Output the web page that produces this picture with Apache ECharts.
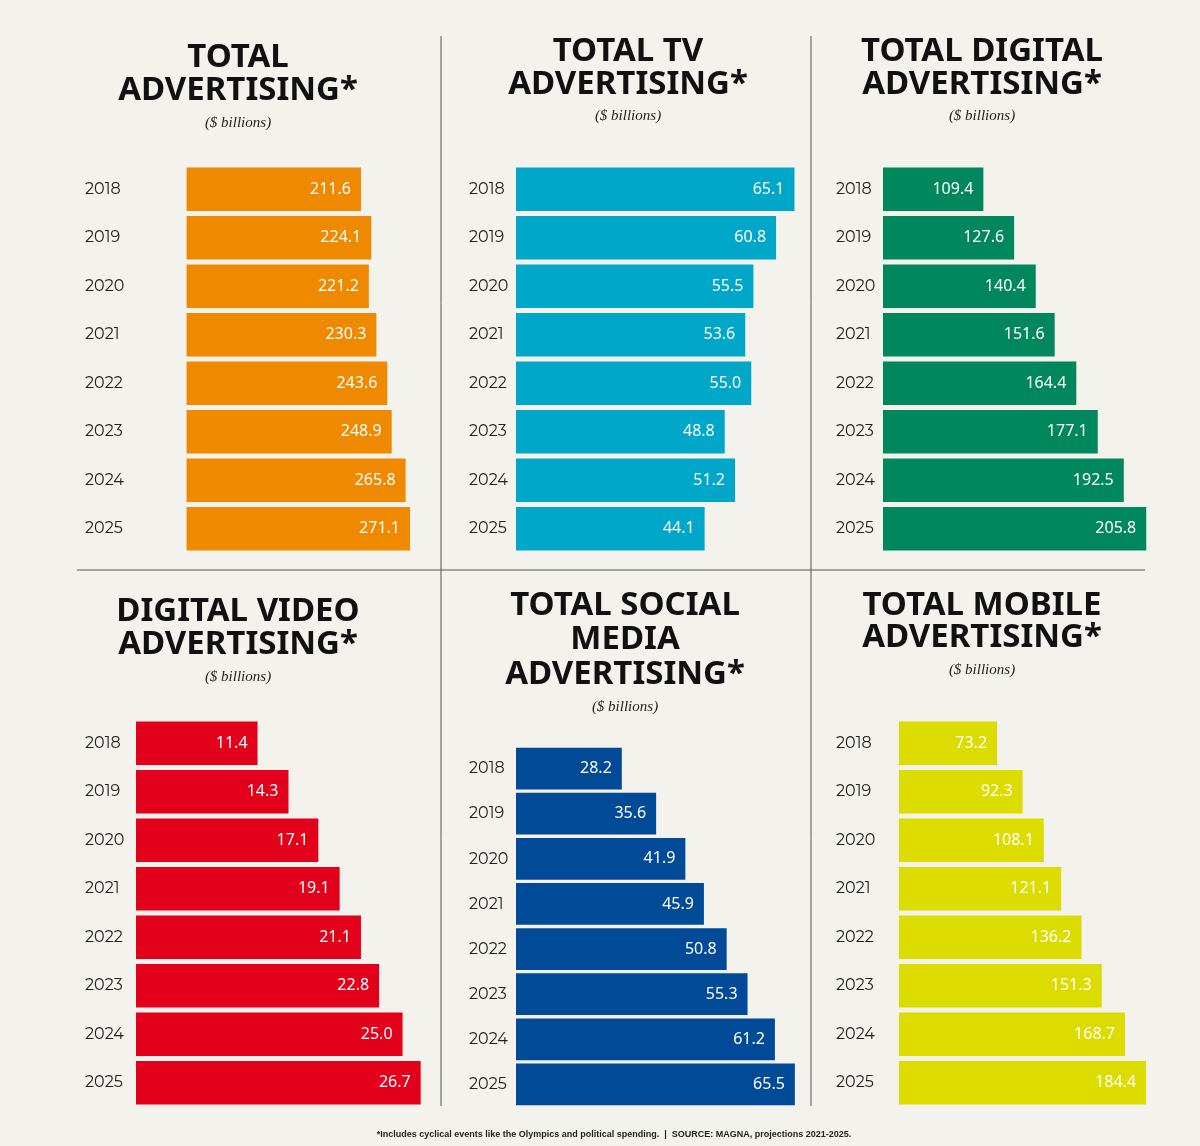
<!DOCTYPE html>
<html><head><meta charset="utf-8">
<script src="https://cdn.jsdelivr.net/npm/echarts@6/dist/echarts.min.js"></script>
<style>html,body{margin:0;padding:0;background:#f3f2ec}#c{width:1200px;height:1146px}</style>
</head><body><div id="c"></div>
<script>
const years = ['2018','2019','2020','2021','2022','2023','2024','2025'];
const totalAd = [211.6,224.1,221.2,230.3,243.6,248.9,265.8,271.1];
const totalTV = [65.1,60.8,55.5,53.6,55.0,48.8,51.2,44.1];
const totalDigital = [109.4,127.6,140.4,151.6,164.4,177.1,192.5,205.8];
const digitalVideo = [11.4,14.3,17.1,19.1,21.1,22.8,25.0,26.7];
const socialMedia = [28.2,35.6,41.9,45.9,50.8,55.3,61.2,65.5];
const mobile = [73.2,92.3,108.1,121.1,136.2,151.3,168.7,184.4];

const panels = [
 {data: totalAd, color:'#ef8a00', left:136, top:165, h:388, w:280, off:61.4, min:0, max:339.8, gap:'10%', title:['TOTAL','ADVERTISING*'], cx:238, ty:[58,91], sy:123},
 {data: totalTV, color:'#00a7c9', left:516, top:165, h:388, w:290, off:0, min:0, max:67.8, gap:'10%', title:['TOTAL TV','ADVERTISING*'], cx:628, ty:[52,85], sy:116},
 {data: totalDigital, color:'#00875c', left:883, top:165, h:388, w:270, off:0, min:50, max:209.8, gap:'10%', title:['TOTAL DIGITAL','ADVERTISING*'], cx:982, ty:[52,85], sy:116},
 {data: digitalVideo, color:'#e2001a', left:136, top:719, h:388, w:290, off:0, min:0, max:27.2, gap:'10%', title:['DIGITAL VIDEO','ADVERTISING*'], cx:238, ty:[612,645], sy:677},
 {data: socialMedia, color:'#004a98', left:516, top:746, h:361, w:290, off:0, min:5.4, max:67.9, gap:'7.5%', title:['TOTAL SOCIAL','MEDIA','ADVERTISING*'], cx:625, ty:[606,640,675], sy:707},
 {data: mobile, color:'#dcdc00', left:883, top:719, h:388, w:270, off:11.9, min:0, max:201.5, gap:'10%', title:['TOTAL MOBILE','ADVERTISING*'], cx:982, ty:[606,638], sy:670}
];

const grid=[], xAxis=[], yAxis=[], series=[], graphic=[];
panels.forEach((p,i)=>{
  grid.push({left:p.left, top:p.top, width:p.w, height:p.h});
  xAxis.push({type:'value', gridIndex:i, min:p.min, max:p.max, show:false});
  yAxis.push({type:'category', gridIndex:i, data:years, inverse:true,
    axisLine:{show:false}, axisTick:{show:false},
    axisLabel:{align:'left', margin:p.left<200?51:47, color:'#222', fontSize:16, fontFamily:'Montserrat, Noto Sans, sans-serif'}});
  if(p.off>0){
    series.push({type:'bar', xAxisIndex:i, yAxisIndex:i, stack:'s'+i, data:years.map(()=>p.off),
      itemStyle:{color:'transparent'}, barCategoryGap:p.gap, silent:true});
  }
  series.push({type:'bar', xAxisIndex:i, yAxisIndex:i, stack:'s'+i, data:p.data, barCategoryGap:p.gap,
    itemStyle:{color:p.color},
    label:{show:true, position:'insideRight', distance:10, color:'#fff', fontSize:16, fontFamily:'Noto Sans, sans-serif',
      formatter:(d)=>d.value.toFixed(1)}});
  p.title.forEach((t,j)=>graphic.push({type:'text', left:'center', x:0, style:{text:t, x:p.cx, y:p.ty[j], align:'center', verticalAlign:'middle',
    font:'bold 33px "Noto Sans", sans-serif', fill:'#111'}}));
  graphic.push({type:'text', style:{text:'($ billions)', x:p.cx, y:p.sy, align:'center', verticalAlign:'middle',
    font:'italic 15px "Liberation Serif", serif', fill:'#222'}});
});
graphic.forEach(g=>{delete g.left; delete g.x;});
graphic.push({type:'line', shape:{x1:441,y1:36,x2:441,y2:1106}, style:{stroke:'#555', lineWidth:1}});
graphic.push({type:'line', shape:{x1:811,y1:36,x2:811,y2:1106}, style:{stroke:'#555', lineWidth:1}});
graphic.push({type:'line', shape:{x1:77,y1:570,x2:1145,y2:570}, style:{stroke:'#555', lineWidth:1}});
graphic.push({type:'text', style:{text:'*Includes cyclical events like the Olympics and political spending.  |  SOURCE: MAGNA, projections 2021-2025.',
  x:614, y:1135, align:'center', verticalAlign:'middle', font:'bold 9px "Liberation Sans Narrow", "Liberation Sans", sans-serif', fill:'#222'}});

const chart = echarts.init(document.getElementById('c'));
chart.setOption({backgroundColor:'#f3f2ec', animation:false, grid, xAxis, yAxis, series, graphic});
</script></body></html>
